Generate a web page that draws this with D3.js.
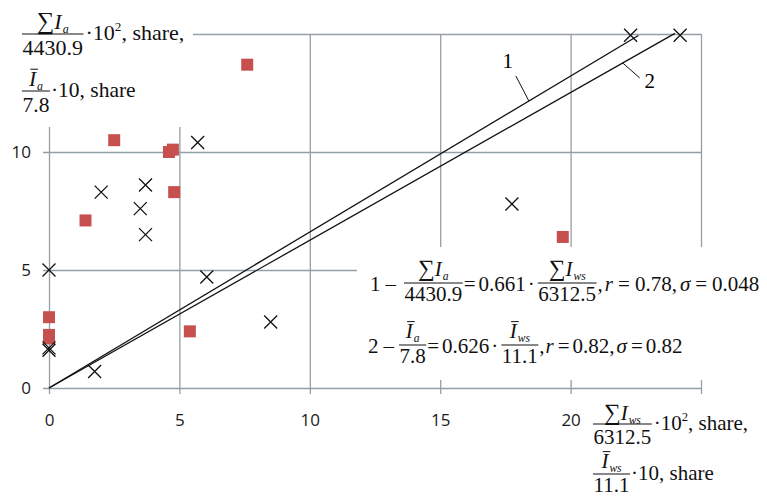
<!DOCTYPE html>
<html><head><meta charset="utf-8">
<script src="https://cdn.jsdelivr.net/npm/d3@7"></script>
<style>html,body{margin:0;padding:0;background:#fff;} svg{display:block;}</style>
</head><body>
<svg id="chart" width="767" height="499"></svg>
<script>
// ---- data ----
const crossX = [22.3, 24.2, 5.7, 2.0, 3.7, 3.5, 3.7, 17.75, 0, 6.05, 8.5, 1.75, 0, 0];
const crossY = [14.95, 14.95, 10.4, 8.3, 8.6, 7.6, 6.5, 7.8, 5.0, 4.7, 2.8, 0.7, 1.6, 1.7];
const squareX = [7.6, 2.5, 4.6, 4.75, 4.8, 1.4, 19.7, 0, 0, 0, 5.4];
const squareY = [13.7, 10.5, 10.0, 10.1, 8.3, 7.1, 6.4, 3.0, 2.25, 2.1, 2.4];
const lineNames = ["1", "2"];
const lineSlopes = [0.661, 0.626];
const lineXEnd = [22.6, 24.0];
const lineLabelAt = [18.4, 22.0];
const xTicks = [0, 5, 10, 15, 20, 25];
const xTickLabels = ["0", "5", "10", "15", "20", ""];
const yTicks = [0, 5, 10, 15];
const yTickLabels = ["0", "5", "10", ""];

// ---- setup ----
const svg = d3.select("#chart");
const x = d3.scaleLinear().domain([0, 25]).range([49, 701]);
const y = d3.scaleLinear().domain([0, 15]).range([388, 34]);
const gridColor = "#959fa6";
const serif = "'Liberation Serif','Times New Roman',serif";
const sans = "'Open Sans','Liberation Sans',sans-serif";

// horizontal grid + y labels
const yAxis = d3.axisLeft(y).tickValues(yTicks)
  .tickFormat((d, i) => yTickLabels[i])
  .tickSize(-(x(25) - x(0) + 6)).tickPadding(12);
const gy = svg.append("g").attr("transform", `translate(${x(0) - 6},0)`).call(yAxis);
gy.select(".domain").remove();
gy.selectAll(".tick line").attr("stroke", gridColor).attr("stroke-width", 1.3);
gy.selectAll(".tick text").attr("font-family", sans).attr("font-size", 17).attr("fill", "#1a1a1a");

// vertical grid + x labels
const xAxis = d3.axisBottom(x).tickValues(xTicks)
  .tickFormat((d, i) => xTickLabels[i])
  .tickSize(-(y(0) + 6 - y(15))).tickPadding(20);
const gx = svg.append("g").attr("transform", `translate(0,${y(0) + 6})`).call(xAxis);
gx.select(".domain").remove();
gx.selectAll(".tick line").attr("stroke", gridColor).attr("stroke-width", 1.3);
gx.selectAll(".tick text").attr("font-family", sans).attr("font-size", 17).attr("fill", "#1a1a1a");

// white boxes behind titles / legend
svg.append("rect").attr("x", 0).attr("y", 0).attr("width", 193).attr("height", 127).attr("fill", "#fff");
svg.append("rect").attr("x", 357).attr("y", 247).attr("width", 410).attr("height", 133).attr("fill", "#fff");

// regression lines
const lines = lineSlopes.map((s, i) => [[0, 0], [lineXEnd[i], s * lineXEnd[i]]]);
svg.append("g").selectAll("path").data(lines).join("path")
  .attr("d", d3.line().x(d => x(d[0])).y(d => y(d[1])))
  .attr("fill", "none").attr("stroke", "#111").attr("stroke-width", 1.3);

// markers
const squares = squareX.map((v, i) => [v, squareY[i]]);
svg.append("g").selectAll("path").data(squares).join("path")
  .attr("transform", d => `translate(${x(d[0])},${y(d[1])})`)
  .attr("d", d3.symbol(d3.symbolSquare, 144))
  .attr("fill", "#c6504e");
const crosses = crossX.map((v, i) => [v, crossY[i]]);
svg.append("g").selectAll("path").data(crosses).join("path")
  .attr("transform", d => `translate(${x(d[0])},${y(d[1])})`)
  .attr("d", "M-6.5,-6.5L6.5,6.5M-6.5,6.5L6.5,-6.5")
  .attr("stroke", "#111").attr("stroke-width", 1.3).attr("fill", "none");

// line labels with leaders
const leaderOff = [[-13, -25], [17, 15]];
const labelOff = [[-21, -33], [27, 25]];
lineNames.forEach((n, i) => {
  const px = x(lineLabelAt[i]), py = y(lineSlopes[i] * lineLabelAt[i]);
  svg.append("line").attr("x1", px).attr("y1", py)
    .attr("x2", px + leaderOff[i][0]).attr("y2", py + leaderOff[i][1])
    .attr("stroke", "#111").attr("stroke-width", 1);
  svg.append("text").attr("x", px + labelOff[i][0]).attr("y", py + labelOff[i][1])
    .attr("text-anchor", "middle").attr("font-family", serif).attr("font-size", 21).text(n);
});

// ---- math text helper ----
function drawAtoms(g, atoms, fs) {
  let cx = 0;
  atoms.forEach(a => {
    if (a.gap !== undefined) { cx += a.gap; return; }
    let size = (a.sub || a.sup) ? fs * (a.sub ? 0.55 : 0.6) : fs;
    if (a.big) size = fs * a.big;
    const dy = a.sub ? fs * 0.2 : a.sup ? -fs * 0.42 : 0;
    const t = g.append("text").attr("x", cx).attr("y", dy)
      .attr("font-size", size).attr("font-style", a.it ? "italic" : "normal")
      .attr("font-family", serif).attr("fill", "#111").text(a.s);
    const w = t.node().getComputedTextLength();
    if (a.over) {
      g.append("line").attr("x1", cx + w * 0.2).attr("x2", cx + w + 2)
        .attr("y1", -fs * 0.78).attr("y2", -fs * 0.78)
        .attr("stroke", "#111").attr("stroke-width", 1);
    }
    cx += w + (a.after || 0);
  });
  return cx;
}
function mathRow(x0, base, items, fs, fr) {
  const g = svg.append("g").attr("transform", `translate(${x0},${base})`);
  let cx = 0;
  items.forEach(it => {
    if (it.frac) {
      const gn = g.append("g"), gd = g.append("g");
      const wn = drawAtoms(gn, it.frac.num, fs);
      const wd = drawAtoms(gd, it.frac.den, fs);
      const W = Math.max(wn, wd) + 2 * fr.pad;
      gn.attr("transform", `translate(${cx + (W - wn) / 2},${-fr.axis - fr.num})`);
      gd.attr("transform", `translate(${cx + (W - wd) / 2},${-fr.axis + fr.den})`);
      g.append("line").attr("x1", cx).attr("x2", cx + W)
        .attr("y1", -fr.axis).attr("y2", -fr.axis).attr("stroke", "#111").attr("stroke-width", 1);
      cx += W + (it.after || 0);
    } else {
      const gg = g.append("g").attr("transform", `translate(${cx},0)`);
      cx += drawAtoms(gg, it.atoms, fs);
    }
  });
  return cx;
}
const SIa = [{s: "\u2211", big: 1.12}, {s: "I", it: true, after: 1}, {s: "a", it: true, sub: true}];
const SIws = [{s: "\u2211", big: 1.12}, {s: "I", it: true, after: 1}, {s: "ws", it: true, sub: true}];
const BIa = [{s: "I", it: true, over: true, after: 1}, {s: "a", it: true, sub: true}];
const BIws = [{s: "I", it: true, over: true, after: 1}, {s: "ws", it: true, sub: true}];

// y-axis title
const frTL = {axis: 6, num: 5, den: 21, pad: 0.5};
mathRow(22, 40, [
  {frac: {num: SIa, den: [{s: "4430.9"}]}, after: 2},
  {atoms: [{s: "\u00b710"}, {s: "2", sup: true}, {s: ", share,"}]}
], 22, frTL);
mathRow(22, 97, [
  {frac: {num: BIa, den: [{s: "7.8"}]}, after: 1},
  {atoms: [{s: "\u00b710, share"}]}
], 21.5, frTL);

// x-axis title
const frBR = {axis: 6, num: 4, den: 20, pad: 0.5};
const frBR2 = {axis: 6, num: 6, den: 18, pad: 0.5};
mathRow(593, 430, [
  {frac: {num: SIws, den: [{s: "6312.5"}]}, after: 2},
  {atoms: [{s: "\u00b710"}, {s: "2", sup: true}, {s: ", share,"}]}
], 21, frBR);
mathRow(593, 480, [
  {frac: {num: BIws, den: [{s: "11.1"}]}, after: 1},
  {atoms: [{s: "\u00b710, share"}]}
], 21, frBR2);

// legend equations
const frLG = {axis: 8, num: 7, den: 18, pad: 0.5};
mathRow(370, 291, [
  {atoms: [{s: "1"}, {gap: 5}, {s: "\u2013"}, {gap: 8}]},
  {frac: {num: SIa, den: [{s: "4430.9"}]}, after: 1},
  {atoms: [{s: "="}, {gap: 3}, {s: "0.661"}, {gap: 2}, {s: "\u00b7"}, {gap: 3}]},
  {frac: {num: SIws, den: [{s: "6312.5"}]}, after: 1},
  {atoms: [{s: ","}, {gap: 2}, {s: "r", it: true, after: 1}, {gap: 4}, {s: "="}, {gap: 5}, {s: "0.78,"}, {gap: 3},
           {s: "\u03c3", it: true, after: 1}, {gap: 4}, {s: "="}, {gap: 5}, {s: "0.048"}]}
], 21, frLG);
mathRow(368, 353, [
  {atoms: [{s: "2"}, {gap: 5}, {s: "\u2013"}, {gap: 5}]},
  {frac: {num: BIa, den: [{s: "7.8"}]}, after: 1},
  {atoms: [{s: "="}, {gap: 3}, {s: "0.626"}, {gap: 2}, {s: "\u00b7"}, {gap: 3}]},
  {frac: {num: BIws, den: [{s: "11.1"}]}, after: 1},
  {atoms: [{s: ","}, {gap: 1}, {s: "r", it: true, after: 1}, {gap: 3}, {s: "="}, {gap: 3}, {s: "0.82,"}, {gap: 2},
           {s: "\u03c3", it: true, after: 1}, {gap: 3}, {s: "="}, {gap: 3}, {s: "0.82"}]}
], 21, frLG);
</script>
</body></html>
